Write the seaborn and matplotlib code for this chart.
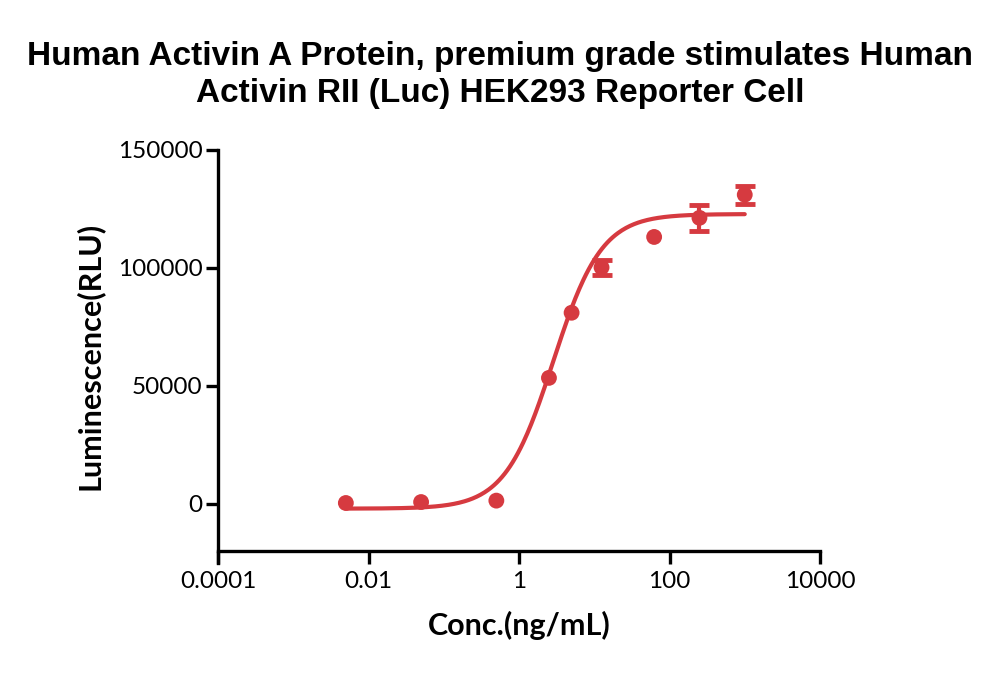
import numpy as np
import pandas as pd
import matplotlib
matplotlib.use("Agg")
import matplotlib.pyplot as plt
import seaborn as sns
from matplotlib.ticker import FixedLocator, NullLocator

# Data
conc = [0.005, 0.05, 0.5, 2.5, 5.0, 12.5, 62.5, 250.0, 1000.0]
rlu = [400, 800, 1400, 53400, 81000, 100200, 113100, 121200, 131000]
err = [0, 0, 0, 0, 0, 3200, 0, 5500, 3800]

# 4PL fit parameters (estimated from the drawn curve)
fit_bottom = -2000
fit_top = 122800
fit_ec50 = 2.85
fit_hill = 1.35

x_ticks = [0.0001, 0.01, 1, 100, 10000]
x_tick_labels = ["0.0001", "0.01", "1", "100", "10000"]
y_ticks = [0, 50000, 100000, 150000]
y_tick_labels = ["0", "50000", "100000", "150000"]

title = "Human Activin A Protein, premium grade stimulates Human\nActivin RII (Luc) HEK293 Reporter Cell"
xlabel = "Conc.(ng/mL)"
ylabel = "Luminescence(RLU)"

color = "#D63A40"

sns.set_style("ticks")
plt.rcParams['font.family'] = ['Lato', 'DejaVu Sans']
plt.rcParams['text.color'] = 'black'
plt.rcParams['axes.labelcolor'] = 'black'

fig = plt.figure(figsize=(10, 6.75), dpi=100)
ax = fig.add_axes([0.218, 0.166, 0.602, 0.612])

df = pd.DataFrame({"conc": conc, "rlu": rlu, "err": err})
xs = np.logspace(np.log10(min(conc)), np.log10(max(conc)), 300)
ys = fit_bottom + (fit_top - fit_bottom) / (1 + (fit_ec50 / xs) ** fit_hill)
curve = pd.DataFrame({"x": xs, "y": ys})

sns.lineplot(data=curve, x="x", y="y", ax=ax, color=color, linewidth=3.0, zorder=2)
eb = df[df["err"] > 0]
ax.errorbar(eb["conc"], eb["rlu"], yerr=eb["err"], fmt="none", ecolor=color,
            elinewidth=3, capsize=7, capthick=3.5, zorder=3)
sns.scatterplot(data=df, x="conc", y="rlu", ax=ax, color=color, s=130,
                edgecolor="none", zorder=4)

ax.set_xscale("log")
ax.set_xlim(0.0001, 10000)
ax.set_ylim(-25000, 150000)
ax.xaxis.set_major_locator(FixedLocator(x_ticks))
ax.xaxis.set_minor_locator(NullLocator())
ax.set_xticks(x_ticks, x_tick_labels)
ax.set_yticks(y_ticks, y_tick_labels)

for s in ["top", "right"]:
    ax.spines[s].set_visible(False)
for s in ["left", "bottom"]:
    ax.spines[s].set_linewidth(2.4)
    ax.spines[s].set_color("black")
ax.spines["bottom"].set_position(("data", -20000))
ax.tick_params(axis="both", width=2.4, length=9, labelsize=17.5, color="black",
               labelcolor="black")
ax.tick_params(axis="y", pad=2)
ax.tick_params(axis="x", pad=5)

ax.set_xlabel(xlabel, fontsize=22, fontweight="bold", labelpad=14, color="black")
ax.set_ylabel(ylabel, fontsize=22, fontweight="bold", labelpad=10, color="black")

fig.text(0.5, 0.889, title, ha="center", va="center", fontsize=24,
         fontweight="bold", color="black",
         family=['Liberation Sans Narrow', 'Liberation Sans', 'DejaVu Sans'],
         linespacing=1.25)

fig.savefig("out.png", dpi=100, facecolor="white")
